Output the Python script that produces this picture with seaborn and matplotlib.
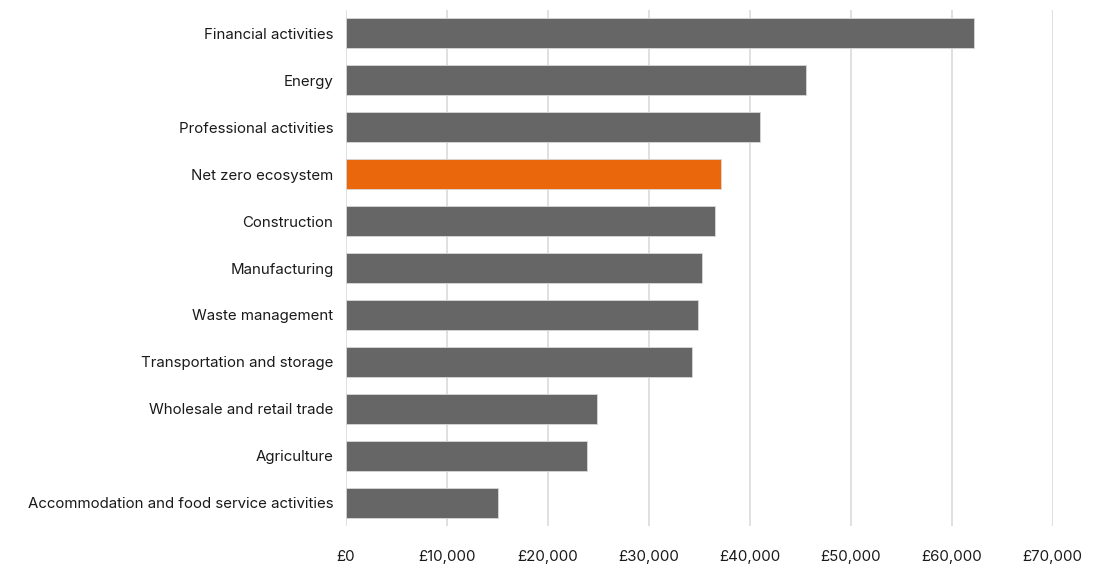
import matplotlib
matplotlib.use("Agg")
import matplotlib.pyplot as plt
import seaborn as sns
import pandas as pd
from matplotlib.ticker import FuncFormatter

sectors = [
    "Financial activities",
    "Energy",
    "Professional activities",
    "Net zero ecosystem",
    "Construction",
    "Manufacturing",
    "Waste management",
    "Transportation and storage",
    "Wholesale and retail trade",
    "Agriculture",
    "Accommodation and food service activities",
]
gva_per_worker = [62200, 45600, 41000, 37200, 36600, 35300, 34900, 34300, 24900, 23900, 15100]
highlight = "Net zero ecosystem"

df = pd.DataFrame({"sector": sectors, "value": gva_per_worker})
palette = {s: ("#EB670C" if s == highlight else "#666666") for s in sectors}

sns.set_theme(style="white")
plt.rcParams["font.family"] = ["Inter", "DejaVu Sans"]

fig = plt.figure(figsize=(10.97, 5.66), dpi=100)
ax = fig.add_axes([0.3154, 0.0698, 0.6441, 0.9134])

sns.barplot(data=df, y="sector", x="value", hue="sector", palette=palette,
            order=sectors, width=0.64, legend=False, ax=ax, saturation=1,
            edgecolor="#d8d8d8", linewidth=0.6)

ax.set_xlim(0, 70000)
ax.set_xticks(range(0, 70001, 10000))
ax.xaxis.set_major_formatter(FuncFormatter(lambda v, _: f"£{int(v):,}"))
ax.grid(axis="x", color="#dddddd", linewidth=1.3)
ax.set_axisbelow(True)
ax.set_xlabel("")
ax.set_ylabel("")
for side in ["top", "right", "bottom", "left"]:
    ax.spines[side].set_visible(False)
ax.tick_params(axis="x", length=0, pad=17, labelsize=10.8, labelcolor="#1a1a1a")
ax.tick_params(axis="y", length=0, pad=9, labelsize=10.8, labelcolor="#1a1a1a")

fig.savefig("out.png", dpi=100)
